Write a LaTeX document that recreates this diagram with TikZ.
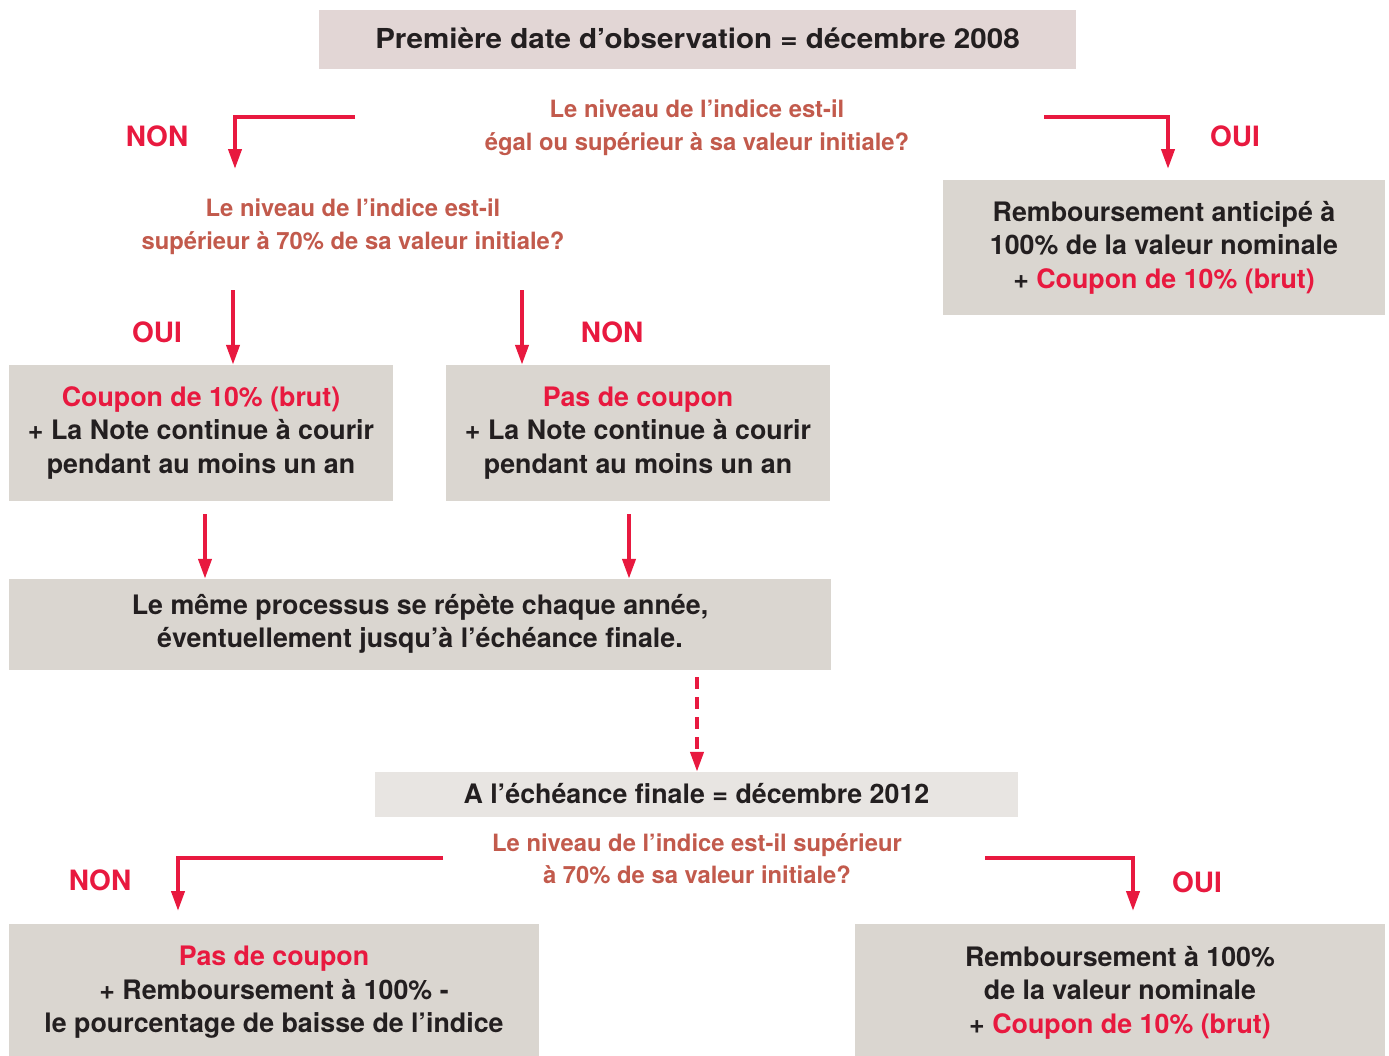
\documentclass[tikz,border=0pt]{standalone}
\usepackage{fontspec}
\setmainfont{TeX Gyre Heros}
\newfontfamily\wideheros[FakeStretch=1.075]{TeX Gyre Heros}
\usetikzlibrary{arrows.meta}
\definecolor{myred}{HTML}{E8193F}
\definecolor{qcol}{HTML}{C25A4C}
\definecolor{ink}{HTML}{231F20}
\definecolor{boxa}{HTML}{E2D6D5}
\definecolor{boxb}{HTML}{DAD6D0}
\definecolor{boxc}{HTML}{E8E5E2}
\begin{document}
\begin{tikzpicture}[x=1pt,y=-1pt,
  box/.style={fill=boxb, inner sep=0pt, align=center, text=ink,
    font=\fontsize{26.8}{33.5}\selectfont\bfseries},
  question/.style={inner sep=0pt, align=center, text=qcol,
    font=\fontsize{23.8}{32.5}\selectfont\bfseries},
  answer/.style={inner sep=0pt, text=myred, font=\fontsize{28}{30}\selectfont\bfseries},
  flow/.style={draw=myred, line width=4pt, -{Triangle[length=20pt,width=13pt]}},
  dflow/.style={flow, dash pattern=on 12pt off 8pt}
]
\useasboundingbox (0,0) rectangle (1389,1055);

% boxes
\node[box, fill=boxa, minimum width=757pt, minimum height=59pt,
  font=\wideheros\fontsize{27.5}{33.5}\selectfont\bfseries] (top) at (697.5,39.5)
  {\raisebox{2pt}{Première date d’observation = décembre 2008}};
\node[box, minimum width=442pt, minimum height=135pt] (r1) at (1164,247.5)
  {Remboursement anticipé à\\100\% de la valeur nominale\\+ \textcolor{myred}{Coupon de 10\% (brut)}};
\node[box, minimum width=384pt, minimum height=136pt] (l1) at (201,433)
  {\raisebox{-1pt}{\begin{tabular}{@{}c@{}}\textcolor{myred}{Coupon de 10\% (brut)}\\+ La Note continue à courir\\pendant au moins un an\end{tabular}}};
\node[box, minimum width=384pt, minimum height=136pt] (l2) at (638,433)
  {\raisebox{-1pt}{\begin{tabular}{@{}c@{}}\textcolor{myred}{Pas de coupon}\\+ La Note continue à courir\\pendant au moins un an\end{tabular}}};
\node[box, minimum width=822pt, minimum height=91pt] (mid) at (420,624.5)
  {\raisebox{-4pt}{\begin{tabular}{@{}c@{}}Le même processus se répète chaque année,\\éventuellement jusqu’à l’échéance finale.\end{tabular}}};
\node[box, fill=boxc, minimum width=643pt, minimum height=45pt] (fin) at (696.5,794.5)
  {\raisebox{1.5pt}{A l’échéance finale = décembre 2012}};
\node[box, minimum width=530pt, minimum height=137pt] (bl) at (274,992.5)
  {\textcolor{myred}{Pas de coupon}\\+ Remboursement à 100\% -\\le pourcentage de baisse de l’indice};
\node[box, minimum width=530pt, minimum height=137pt] (br) at (1120,992.5)
  {Remboursement à 100\%\\de la valeur nominale\\+ \textcolor{myred}{Coupon de 10\% (brut)}};

% questions
\node[question] (q1) at (697,127.5) {Le niveau de l’indice est-il\\égal ou supérieur à sa valeur initiale?};
\node[question] (q2) at (353,226.5) {Le niveau de l’indice est-il\\supérieur à 70\% de sa valeur initiale?};
\node[question] (q3) at (697,859) {Le niveau de l’indice est-il supérieur\\à 70\% de sa valeur initiale?};

% answers
\node[answer] (a1) at (157,136) {NON};
\node[answer] (a2) at (1235,136) {OUI};
\node[answer] (a3) at (157,332) {OUI};
\node[answer] (a4) at (612,332) {NON};
\node[answer] (a5) at (100,880) {NON};
\node[answer] (a6) at (1197,882) {OUI};

% connector coordinates
\coordinate (c1s) at (355,117);
\coordinate (c1e) at (235,169);
\coordinate (c2s) at (1044,117);
\coordinate (c2e) at (1168,169);
\coordinate (c3s) at (233,290);
\coordinate (c4s) at (522,290);
\coordinate (c7s) at (443,858);
\coordinate (c7e) at (178,911);
\coordinate (c8s) at (985,858);
\coordinate (c8e) at (1133,911);

\draw[flow] (c1s) -| (c1e);
\draw[flow] (c2s) -| (c2e);
\draw[flow] (c3s) -- (c3s |- l1.north);
\draw[flow] (c4s) -- (c4s |- l2.north);
\draw[flow] ([yshift=-13pt]l1.south -| 205,0) -- (mid.north -| 205,0);
\draw[flow] ([yshift=-13pt]l2.south -| 629,0) -- (mid.north -| 629,0);
\draw[dflow] ([yshift=-7pt]mid.south -| 697,0) -- (fin.north -| 697,0);
\draw[flow] (c7s) -| (c7e);
\draw[flow] (c8s) -| (c8e);
\end{tikzpicture}
\end{document}
